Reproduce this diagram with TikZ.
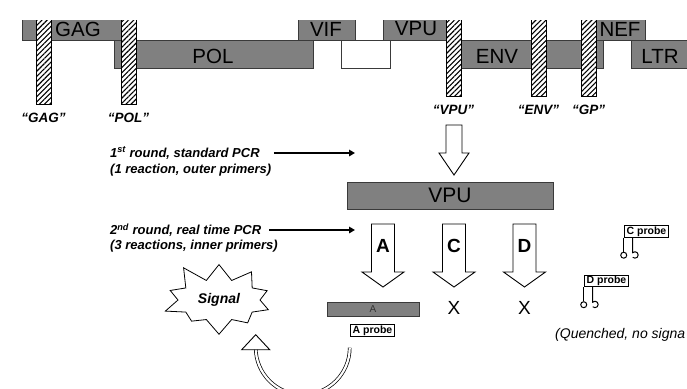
\documentclass[tikz,border=0pt]{standalone}
\usepackage{fontspec}
\setmainfont{Liberation Sans}
\usetikzlibrary{shapes.symbols, shapes.arrows, patterns.meta, arrows.meta, calc,
  positioning}
\definecolor{genegray}{HTML}{808080}
\definecolor{geneedge}{HTML}{3A3A3A}
\tikzset{
  % segmento della mappa genica
  gene/.style={draw=geneedge, fill=genegray, line width=0.7pt, inner sep=0pt,
    anchor=north west},
  % primer tratteggiato
  primer/.style={draw=black, line width=0.8pt, minimum width=15pt, inner sep=0pt,
    anchor=north, preaction={fill=white},
    pattern={Lines[angle=45, distance=3.6pt, line width=1.1pt]}},
  % etichette
  genelbl/.style={font=\fontsize{20.5}{22}\selectfont, inner sep=0pt},
  qlbl/.style={font=\fontsize{13.5}{15}\selectfont\bfseries\itshape, inner sep=0pt},
  roundlbl/.style={font=\fontsize{13}{16}\selectfont\bfseries\itshape, inner sep=0pt,
    anchor=west},
  quenchlbl/.style={font=\fontsize{14}{16}\selectfont\itshape, inner sep=0pt, anchor=west},
  % freccia piena
  msg/.style={-{Triangle[length=6pt, width=6.5pt]}, line width=1.8pt},
  % freccia vuota
  hollow/.style={draw=black, fill=white, line width=0.9pt, line join=miter},
  ring/.style={draw, double, double distance=2.2pt, line width=0.7pt},
  % prodotto di amplificazione
  vpubig/.style={draw=geneedge, fill=genegray, line width=0.7pt, minimum width=206pt,
    minimum height=27pt, font=\fontsize{21}{23}\selectfont},
  arrowletter/.style={font=\fontsize{19}{21}\selectfont\bfseries, inner sep=0pt},
  crossmark/.style={font=\fontsize{19}{21}\selectfont, inner sep=0pt},
  abar/.style={draw=geneedge, fill=genegray, line width=0.7pt, minimum width=92pt,
    minimum height=14pt, inner sep=0pt, font=\fontsize{10}{11}\selectfont, text=black!80},
  % sonda
  probebox/.style={draw=black, line width=0.9pt, fill=white, inner xsep=2.5pt,
    inner ysep=1pt, font=\fontsize{10.5}{12}\selectfont\bfseries, text height=7.5pt,
    text depth=2pt},
  fluor/.style={circle, draw, line width=1pt, minimum size=6pt, inner sep=0pt},
  thinline/.style={line width=1pt},
  burst/.style={starburst, starburst points=10, starburst point height=20pt,
    random starburst=11, draw, line width=0.8pt, inner xsep=8pt, inner ysep=8pt,
    font=\fontsize{14}{16}\selectfont\bfseries\itshape},
}

\begin{document}
\begin{tikzpicture}[x=1pt, y=-1pt]
  \useasboundingbox (0,0) rectangle (687,388);
  \begin{scope}
    \clip (0,20) rectangle (687,388);
    \foreach \g/\x/\y/\w/\h in {gag/22/12/100/28, vif/298/12/57/28, vpu/383/12/66/28,
      nef/595/12/50/28, pol/114/40/199/28, env/447/40/156/28, ltr/631/40/60/28}
      \node[gene, minimum width=\w pt, minimum height=\h pt] (\g) at (\x,\y) {};
    \node[gene, fill=white, minimum width=49pt, minimum height=28pt] (gap) at (341,40) {};
    \foreach \b/\x/\h in {gag/43.5/92, pol/128.5/92, vpu/453.5/84, env/538.5/84, gp/588.5/84}
      \node[primer, minimum height=\h pt] (p\b) at (\x,12) {};
  \end{scope}
  \foreach \t/\x/\y in {GAG/78/29, VIF/326/29, VPU/416/29, NEF/620/29, POL/213/56,
    ENV/497/56, LTR/660/56}
    \node[genelbl] (l\t) at (\x,\y) {\t};
  \foreach \b/\t in {gag/GAG, pol/POL, vpu/VPU, env/ENV, gp/GP}
    \node[qlbl, below=8pt of p\b] (q\b) {“\t”};

  \node[roundlbl] (r1a) at (110,153) {1\textsuperscript{st} round, standard PCR};
  \node[roundlbl] (r1b) at (110,170) {(1 reaction, outer primers)};
  \node[roundlbl] (r2a) at (110,230) {2\textsuperscript{nd} round, real time PCR};
  \node[roundlbl] (r2b) at (110,246) {(3 reactions, inner primers)};
  \coordinate (r1tip) at (355,153);
  \coordinate (r2tip) at (355,230);
  \draw[msg] ([xshift=14pt]r1a.east) -- (r1tip);
  \draw[msg] ([xshift=8pt]r2a.east) -- (r2tip);

  \draw[hollow] (446,125) -- (462,125) -- (462,153) -- (469,153) -- (454,175)
    -- (439,153) -- (446,153) -- cycle;
  \node[vpubig] (vpubox) at (450,195.5) {VPU};
  \foreach \l/\cx in {A/383, C/454, D/524.5} {
    \draw[hollow] (\cx-11.5,224) -- (\cx+11.5,224) -- (\cx+11.5,272) -- (\cx+21,272)
      -- (\cx,287) -- (\cx-21,272) -- (\cx-11.5,272) -- cycle;
    \node[arrowletter] (let\l) at (\cx,246) {\l};
  }
  \foreach \n/\cx in {xc/454, xd/524.5}
    \node[crossmark] (\n) at (\cx,308) {X};

  \node[abar] (abar) at (373,309) {A};
  \node[probebox] (aprobe) at (372.5,330.5) {A probe};
  \node[burst] (signal) at (219,300) {Signal};
  \coordinate (ringstart) at ([yshift=-11pt]aprobe.south west);
  \draw[ring] (ringstart) arc[start angle=0, end angle=180, radius=47] coordinate (ringend);
  \draw[hollow] ([xshift=-14pt,yshift=-2pt]ringend) -- ([yshift=13pt]ringend)
    -- ([xshift=14pt,yshift=-2pt]ringend) -- cycle;

  \foreach \p/\t/\x/\y in {c/C/646.5/231.5, d/D/606.5/281} {
    \node[probebox] (probe\p) at (\x,\y) {\t\ probe};
    \node[fluor, below=14pt of probe\p.south west] (fl\p) {};
    \draw[thinline] (probe\p.south west) -- (fl\p);
    \coordinate (qu\p) at ([xshift=9pt,yshift=-15pt]probe\p.south west);
    \draw[thinline] ([xshift=9pt]probe\p.south west) -- (qu\p)
      arc[start angle=-135, end angle=135, radius=3.2];
  }
  \node[quenchlbl] (quench) at (555,335) {(Quenched, no signa};
\end{tikzpicture}
\end{document}
